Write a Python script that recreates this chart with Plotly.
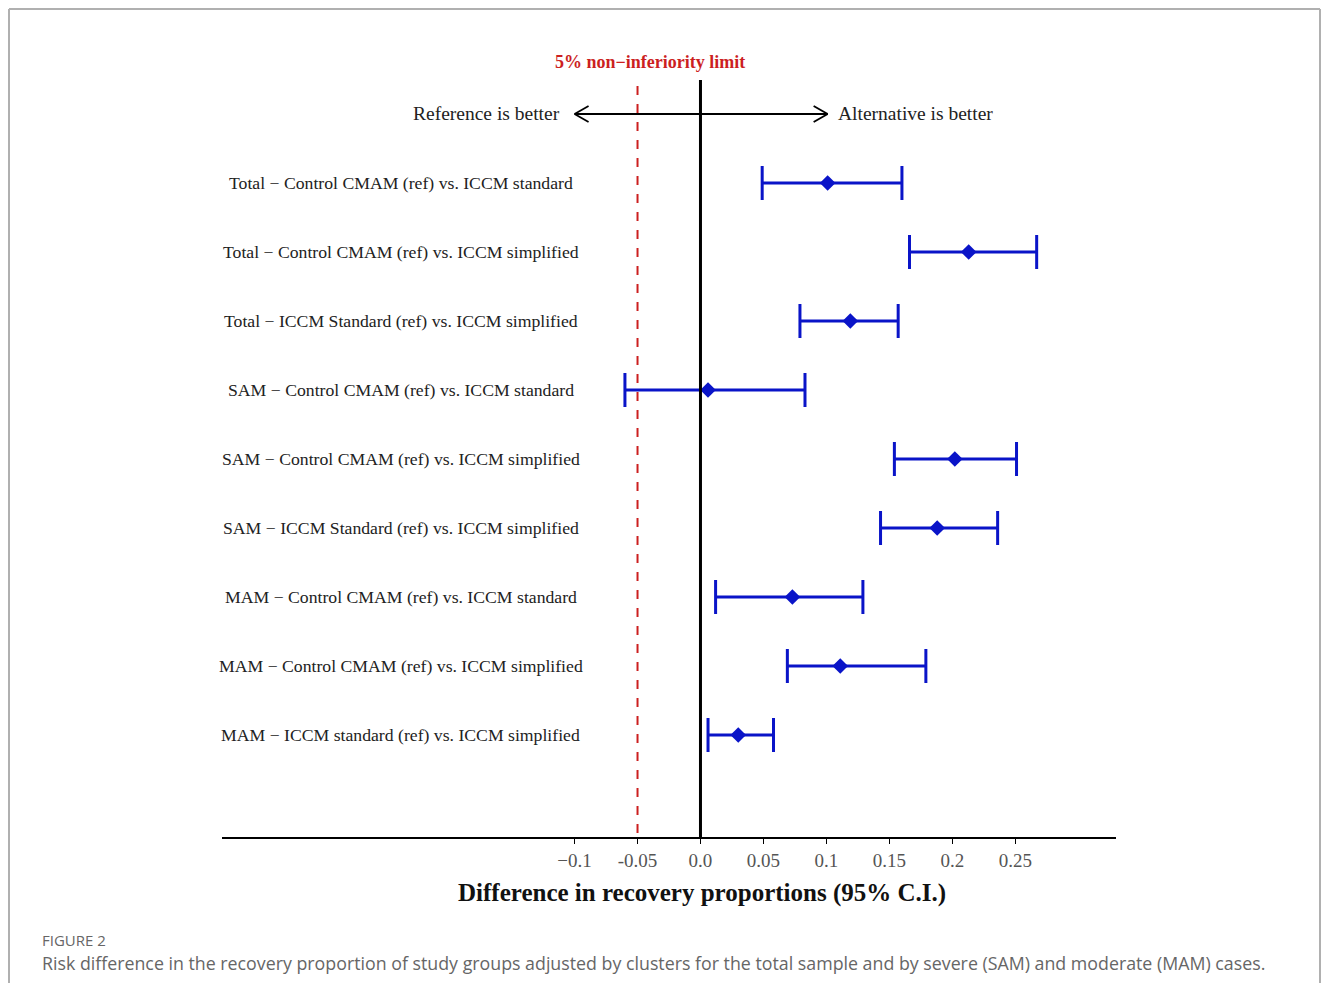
import plotly.graph_objects as go

# ---- data ----
labels = [
    "Total − Control CMAM (ref) vs. ICCM standard",
    "Total − Control CMAM (ref) vs. ICCM simplified",
    "Total − ICCM Standard (ref) vs. ICCM simplified",
    "SAM − Control CMAM (ref) vs. ICCM standard",
    "SAM − Control CMAM (ref) vs. ICCM simplified",
    "SAM − ICCM Standard (ref) vs. ICCM simplified",
    "MAM − Control CMAM (ref) vs. ICCM standard",
    "MAM − Control CMAM (ref) vs. ICCM simplified",
    "MAM − ICCM standard (ref) vs. ICCM simplified",
]
estimate = [0.101, 0.213, 0.119, 0.006, 0.202, 0.188, 0.073, 0.111, 0.030]
ci_low = [0.049, 0.166, 0.079, -0.060, 0.154, 0.143, 0.012, 0.069, 0.006]
ci_high = [0.160, 0.267, 0.157, 0.083, 0.251, 0.236, 0.129, 0.179, 0.058]
tick_vals = [-0.1, -0.05, 0.0, 0.05, 0.1, 0.15, 0.2, 0.25]
tick_text = ["−0.1", "-0.05", "0.0", "0.05", "0.1", "0.15", "0.2", "0.25"]
ni_limit = -0.05

# ---- layout geometry (page pixels; the page body adds an 8px margin) ----
OFF = 8
W, H = 1314, 975
L, R, T, B = 222, 1116, 40, 837
X_RANGE = [-0.380, 0.330]
ROW0, ROWSTEP = 183, 69


def px(x):
    return (x - L) / (R - L)


def py(y):
    return (B - y) / (B - T)


def row(ypix):
    return (ypix - ROW0) / ROWSTEP


Y_RANGE = [row(B), row(T)]
rows = list(range(len(labels)))

BLUE = "#0a14c8"
RED = "#cc1f1f"
SERIF = "Liberation Serif"

fig = go.Figure()
fig.add_trace(go.Scatter(
    x=estimate, y=rows, mode="markers",
    marker=dict(symbol="diamond", size=12, color=BLUE),
    error_x=dict(type="data", symmetric=False,
                 array=[h - e for h, e in zip(ci_high, estimate)],
                 arrayminus=[e - l for e, l in zip(estimate, ci_low)],
                 color=BLUE, thickness=3, width=17),
    showlegend=False, hoverinfo="skip",
))

shapes = []
shapes.append(dict(type="line", xref="x", yref="y", x0=0, x1=0,
                   y0=row(80), y1=Y_RANGE[0], line=dict(color="black", width=3)))
shapes.append(dict(type="line", xref="x", yref="y", x0=ni_limit, x1=ni_limit,
                   y0=row(86), y1=Y_RANGE[0], line=dict(color=RED, width=2, dash="dash"),
                   layer="below"))
ay = row(114)
ax0, ax1 = -0.1, 0.101
shapes.append(dict(type="line", xref="x", yref="y", x0=ax0, x1=ax1, y0=ay, y1=ay,
                   line=dict(color="black", width=1.8)))
dxh, dyh = 14 / 1259, 8 / ROWSTEP
for xt, s in [(ax0, 1), (ax1, -1)]:
    for sy in (-1, 1):
        shapes.append(dict(type="line", xref="x", yref="y", x0=xt, y0=ay,
                           x1=xt + s * dxh, y1=ay + sy * dyh,
                           line=dict(color="black", width=1.8)))
# figure frame (kept inside the drawable area)
FL, FT, FR, FB = 9, 9, OFF + W - 2, OFF + H
for x0, y0, x1, y1 in [(FL, FT, FR, FT), (FL, FT, FL, FB), (FR, FT, FR, FB)]:
    shapes.append(dict(type="line", xref="paper", yref="paper",
                       x0=px(x0), y0=py(y0), x1=px(x1), y1=py(y1),
                       line=dict(color="#b0b0b0", width=2)))

annotations = []
for i, lab in enumerate(labels):
    annotations.append(dict(x=-0.238, y=i, xref="x", yref="y", text=lab,
                            showarrow=False, xanchor="center", yanchor="middle",
                            font=dict(family=SERIF, size=17.7, color="#222")))


def ann(x, y, text, size, color, family=SERIF, xanchor="center"):
    return dict(x=px(x), y=py(y), xref="paper", yref="paper", text=text,
                showarrow=False, xanchor=xanchor, yanchor="middle",
                font=dict(family=family, size=size, color=color))


annotations += [
    ann(650, 62, "<b>5% non−inferiority limit</b>", 18, RED),
    ann(562, 114, "Reference is better", 19.5, "#222", xanchor="right"),
    ann(836, 114, "Alternative is better", 19.5, "#222", xanchor="left"),
    ann(702, 893, "<b>Difference in recovery proportions (95% C.I.)</b>", 25, "#111"),
    ann(40, 940, "FIGURE 2", 15, "#666", family="Open Sans", xanchor="left"),
    ann(40, 963, "Risk difference in the recovery proportion of study groups adjusted by clusters "
        "for the total sample and by severe (SAM) and moderate (MAM) cases.",
        17.8, "#666", family="Open Sans", xanchor="left"),
]

fig.update_layout(
    width=W, height=H, autosize=False,
    margin=dict(l=L - OFF, r=W - (R - OFF), t=T - OFF, b=H - (B - OFF), pad=0),
    paper_bgcolor="white", plot_bgcolor="white",
    xaxis=dict(range=X_RANGE, tickvals=tick_vals, ticktext=tick_text,
               ticks="outside", ticklen=5, tickcolor="black", tickwidth=1,
               showline=True, linecolor="black", linewidth=1.5,
               showgrid=False, zeroline=False, fixedrange=True,
               tickfont=dict(family=SERIF, size=19, color="#555")),
    yaxis=dict(range=Y_RANGE, visible=False, showgrid=False, zeroline=False),
    shapes=shapes, annotations=annotations,
)

fig.write_html("out.html")
